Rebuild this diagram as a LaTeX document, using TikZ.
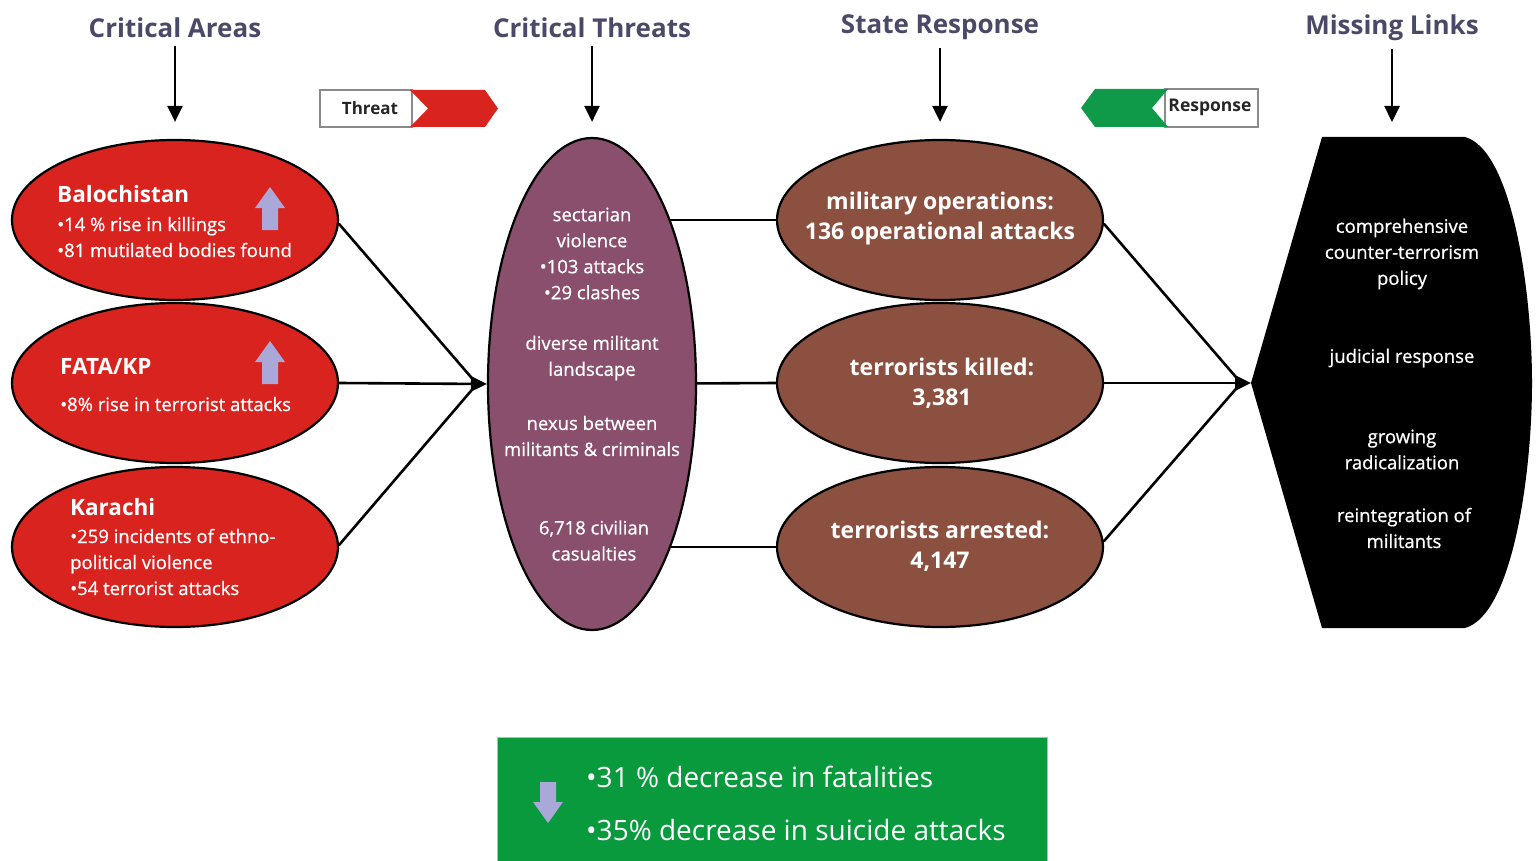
\documentclass[tikz,border=0pt]{standalone}
\usepackage{fontspec}
\setmainfont{Open Sans}
\newfontfamily\medfont[FakeBold=0.8]{Open Sans}
\usetikzlibrary{shapes.geometric,arrows.meta,backgrounds}
\definecolor{areared}{HTML}{D8231F}
\definecolor{threatpurple}{HTML}{8A4F6C}
\definecolor{respbrown}{HTML}{8C5040}
\definecolor{boxgreen}{HTML}{0A9A3E}
\definecolor{arrgreen}{HTML}{0E9A48}
\definecolor{lav}{HTML}{A9A8D8}
\definecolor{titlecol}{HTML}{4A4A68}
\definecolor{frame}{HTML}{8A8A8A}
\newcommand{\fsz}[2]{\fontsize{#1}{#2}\selectfont}
\begin{document}
\begin{tikzpicture}[x=1pt,y=-1pt,
  titletext/.style={font=\fsz{26}{30}\bfseries, text=titlecol, inner sep=0pt},
  areaell/.style={ellipse, draw=black, line width=2.2pt, fill=areared, minimum width=326pt, minimum height=160pt, inner sep=0pt},
  respell/.style={ellipse, draw=black, line width=2.2pt, fill=respbrown, minimum width=326pt, minimum height=160pt, inner sep=0pt},
  wtext/.style={text=white, inner sep=0pt, align=left, font=\medfont\fsz{18.5}{26}},
  whead/.style={text=white, inner sep=0pt, font=\fsz{22.5}{26}\bfseries},
  ctext/.style={text=white, inner sep=0pt, align=center, font=\medfont\fsz{18.5}{26}},
  btext/.style={text=white, inner sep=0pt, align=center, font=\fsz{23}{30}\bfseries},
  conn/.style={line width=2.6pt, draw=black},
  arr/.style={conn, -{Triangle[length=16pt,width=15pt]}},
  lavarrow/.style={fill=lav, draw=none}
]
\useasboundingbox (0,0) rectangle (1538,861);

% titles
\node[titletext] (t1) at (175,28) {Critical Areas};
\node[titletext] (t2) at (592,28) {Critical Threats};
\node[titletext] (t3) at (940,27) {State Response};
\node[titletext] (t4) at (1392,28) {Missing Links};

% critical areas
\node[areaell] (bal) at (175,220) {};
\node[areaell] (fata) at (175,383) {};
\node[areaell] (kar) at (175,547) {};

\node[whead, anchor=base west] (balh) at (57,203) {Balochistan};
\node[wtext, anchor=base west] (balt) at (57,257) {•14 \% rise in killings\\•81 mutilated bodies found};
\node[whead, anchor=base west] (fatah) at (60,374) {FATA/KP};
\node[wtext, anchor=base west] (fatat) at (60,411) {•8\% rise in terrorist attacks};
\node[whead, anchor=base west] (karh) at (70,515) {Karachi};
\node[wtext, anchor=base west] (kart) at (70,595) {•259 incidents of ethno-\\political violence\\•54 terrorist attacks};

% up arrows
\path[lavarrow] (270,187) -- (285,208) -- (278,208) -- (278,230) -- (262,230) -- (262,208) -- (255,208) -- cycle;
\path[lavarrow] (270,341) -- (285,362) -- (278,362) -- (278,384) -- (262,384) -- (262,362) -- (255,362) -- cycle;

% critical threats
\node[ellipse, draw=black, line width=2.2pt, fill=threatpurple, minimum width=208pt, minimum height=492pt, inner sep=0pt] (thr) at (592,384) {};
\node[ctext] (thr1) at (592,253.5) {sectarian\\violence\\•103 attacks\\•29 clashes};
\node[ctext] (thr2) at (592,358) {diverse militant\\landscape};
\node[ctext] (thr3) at (592,436) {nexus between\\militants \& criminals};
\node[ctext] (thr4) at (594,540.5) {6,718 civilian\\casualties};

% state response
\node[respell] (mil) at (940,220) {};
\node[respell] (kil) at (940,383) {};
\node[respell] (arrst) at (940,547) {};
\node[btext] (milt) at (940,219) {military operations:\\136 operational attacks};
\node[btext] (kilt) at (942,383) {terrorists killed:\\3,381};
\node[btext] (arrt) at (940,546) {terrorists arrested:\\4,147};

% missing links
\coordinate (mlk) at (1251,383);
\fill[black] (mlk) -- (1322,137) -- (1465,137) .. controls (1512,150) and (1532,290) .. (1532,383) .. controls (1532,476) and (1512,615) .. (1465,628) -- (1322,628) -- cycle;
\node[ctext] (ml1) at (1402,254) {comprehensive\\counter-terrorism\\policy};
\node[ctext] (ml2) at (1402,358) {judicial response};
\node[ctext] (ml3) at (1402,449.5) {growing\\radicalization};
\node[ctext] (ml4) at (1404,528) {reintegration of\\militants};

% title arrows
\draw[arr] ([yshift=-8pt]t1.south) -- ([yshift=17pt]bal.north);
\draw[arr] ([yshift=-8pt]t2.south) -- ([yshift=15pt]thr.north);
\draw[arr] ([yshift=-8pt]t3.south) -- ([yshift=17pt]mil.north);
\draw[arr] ([yshift=-8pt]t4.south) -- (1392,122);

% connectors
\begin{pgfonlayer}{background}
\draw[conn] (mil.west) -- (mil.west -| thr.center);
\draw[conn] (kil.west) -- (thr.center);
\draw[conn] (arrst.west) -- (arrst.west -| thr.center);
\end{pgfonlayer}
\draw[conn, line cap=round] ([yshift=-4pt]bal.east) -- ([xshift=-10pt]thr.west);
\draw[arr] (fata.east) -- (thr.west);
\draw[conn, line cap=round] ([yshift=2pt]kar.east) -- ([xshift=-10pt]thr.west);
\draw[conn, line cap=round] ([yshift=-4pt]mil.east) -- ([xshift=-10pt]mlk);
\draw[arr] (kil.east) -- (mlk);
\draw[conn, line cap=round] ([yshift=6pt]arrst.east) -- ([xshift=-10pt]mlk);

% threat tag
\draw[frame, line width=1.2pt, fill=white] (320,90) rectangle (412,127);
\fill[areared] (410,90) -- (485,90) -- (498,108.5) -- (485,127) -- (410,127) -- (428,108.5) -- cycle;
\node[inner sep=0pt, font=\fsz{17}{20}\bfseries, text=black!85] (threat) at (370,108) {Threat};

% response tag
\draw[frame, line width=1.2pt, fill=white] (1165,89) rectangle (1258,127);
\fill[arrgreen] (1168,89) -- (1095,89) -- (1081,108) -- (1095,127) -- (1168,127) -- (1152,108) -- cycle;
\node[inner sep=0pt, font=\fsz{17.5}{20}\bfseries, text=black!85] (resp) at (1210,107) {Response};

% bottom box
\draw[fill=boxgreen, draw=frame!60, line width=1pt] (497,737) rectangle (1047,875);
\path[lavarrow] (548,823) -- (563,802) -- (556,802) -- (556,782) -- (540,782) -- (540,802) -- (533,802) -- cycle;
\node[text=white, inner sep=0pt, anchor=base west, align=left, font=\fsz{28}{53}] (bott) at (586,840) {•31 \% decrease in fatalities\\•35\% decrease in suicide attacks};
\end{tikzpicture}
\end{document}
